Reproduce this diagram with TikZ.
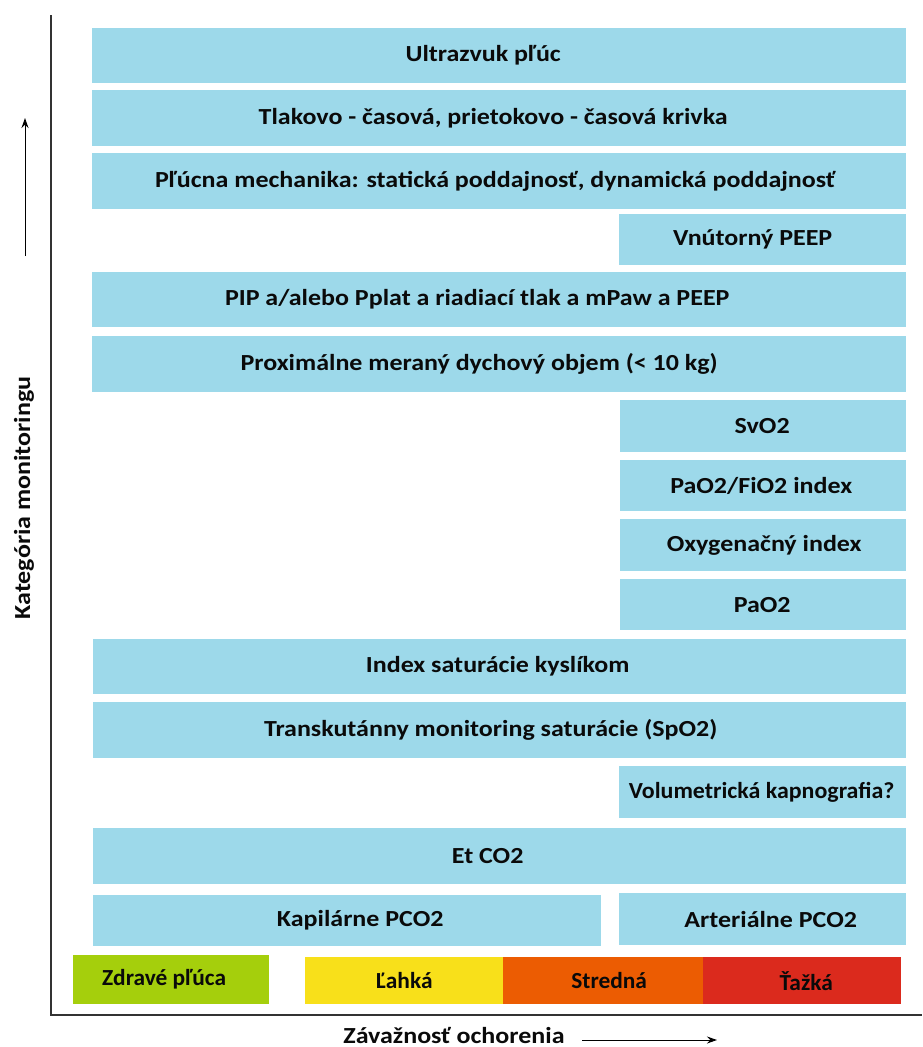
\documentclass[tikz,border=0pt]{standalone}
\usepackage{fontspec}
\setmainfont{Carlito}[FakeStretch=1.13]
\usetikzlibrary{arrows.meta}
\definecolor{boxblue}{HTML}{9DD9EA}
\definecolor{healthy}{HTML}{A5CF0C}
\definecolor{mild}{HTML}{F8E01A}
\definecolor{moderate}{HTML}{EC5C02}
\definecolor{severe}{HTML}{DB2A1D}
\definecolor{txt}{HTML}{0A0A0A}
\definecolor{axisc}{HTML}{333333}
\tikzset{
  mbox/.style={fill=boxblue, draw=none, anchor=north west, inner sep=0pt, text=txt,
    font=\fontsize{23}{27}\selectfont\bfseries},
  sev/.style={draw=none, anchor=north west, inner sep=0pt, text=txt,
    font=\fontsize{23}{27}\selectfont\bfseries},
  axlabel/.style={text=txt, font=\fontsize{23}{27}\selectfont\bfseries, inner sep=0pt},
}
% x, y, width, height, name, text offset, text
\newcommand{\mb}[7]{\node[mbox, minimum width=#3pt, minimum height=#4pt] (#5) at (#1,#2) {\hspace*{#6pt}#7\hspace*{-#6pt}};}
\newcommand{\sq}[1]{\scalebox{0.9}[1]{#1}}
\begin{document}
\begin{tikzpicture}[x=1pt,y=-1pt]
\useasboundingbox[fill=white] (0,0) rectangle (922,1047);
% axes
\coordinate (ytop) at (51,15);
\coordinate (origin) at (51,1015);
\coordinate (xend) at (922,1015);
\draw[axisc, line width=2.6pt] (ytop) -- (origin) -- (xend);
% category arrow
\coordinate (ya) at (25,256);
\coordinate (yb) at (25,118);
\draw[line width=1pt, -{Stealth[length=10pt,width=7pt]}] (ya) -- (yb);
\node[axlabel, rotate=90] (ylab) at (24,498) {Kategória monitoringu};
% boxes
\mb{92}{28}{814}{55}{b1}{-16}{Ultrazvuk pľúc}
\mb{92}{90}{814}{56}{b2}{-6}{Tlakovo - časová, prietokovo - časová krivka}
\mb{92}{153}{814}{56}{b3}{-4}{Pľúcna mechanika: statická poddajnosť, dynamická poddajnosť}
\mb{619}{214}{287}{51}{b4}{-10}{Vnútorný PEEP}
\mb{92}{272}{814}{55}{b5}{-22}{PIP a/alebo Pplat a riadiací tlak a mPaw a PEEP}
\mb{92}{336}{814}{56}{b6}{-20}{Proximálne meraný dychový objem (< 10 kg)}
\mb{620}{400}{286}{52}{b7}{-1}{SvO2}
\mb{620}{460}{286}{51}{b8}{-2}{PaO2/FiO2 index}
\mb{620}{519}{286}{52}{b9}{1}{Oxygenačný index}
\mb{620}{579}{286}{51}{b10}{-1}{PaO2}
\mb{93}{639}{813}{55}{b11}{-2}{Index saturácie kyslíkom}
\mb{93}{702}{813}{56}{b12}{-9}{Transkutánny monitoring saturácie (SpO2)}
\mb{619}{766}{287}{52}{b13}{-1}{\scalebox{0.92}[1]{Volumetrická kapnografia?}}
\mb{93}{828}{813}{56}{b14}{-12}{Et CO2}
\mb{93}{895}{508}{51}{b15}{13}{Kapilárne PCO2}
\mb{619}{893}{287}{52}{b16}{8}{Arteriálne PCO2}
% severity bar
\node[sev, fill=healthy, minimum width=196pt, minimum height=49pt] (s0) at (73,955) {\hspace*{-7pt}\sq{Zdravé pľúca}\hspace*{7pt}};
\node[sev, fill=mild, minimum width=198pt, minimum height=47pt] (s1) at (305,957) {\sq{Ľahká}};
\node[sev, fill=moderate, minimum width=200pt, minimum height=47pt] (s2) at (503,957) {\hspace*{6pt}\sq{Stredná}\hspace*{-6pt}};
\node[sev, fill=severe, minimum width=198pt, minimum height=47pt] (s3) at (703,957) {\hspace*{4pt}\sq{Ťažká}\hspace*{-4pt}};
% x label
\node[axlabel, anchor=base] (xlab) at (454,1043) {Závažnosť ochorenia};
\coordinate (xa) at (582,1040);
\coordinate (xb) at (717,1040);
\draw[line width=1pt, -{Stealth[length=10pt,width=7pt]}] (xa) -- (xb);
\end{tikzpicture}
\end{document}
